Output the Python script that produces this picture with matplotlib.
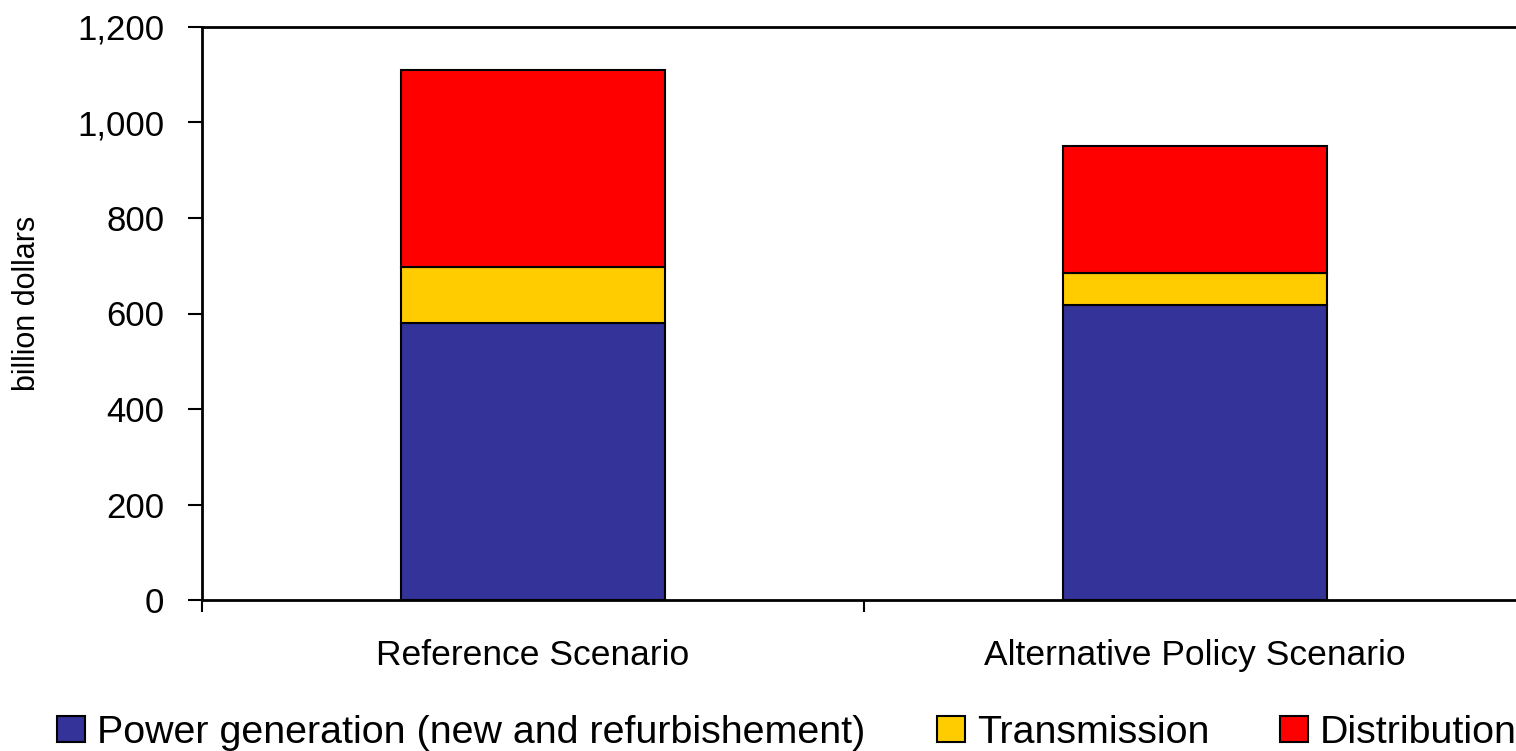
import matplotlib
matplotlib.use("Agg")
import matplotlib.pyplot as plt
from matplotlib.ticker import FuncFormatter, FixedLocator

categories = ["Reference Scenario", "Alternative Policy Scenario"]
series_names = ["Power generation (new and refurbishement)", "Transmission", "Distribution"]
power_generation = [580, 618]
transmission = [117, 67]
distribution = [413, 266]
colors = ["#333399", "#FFCC00", "#FF0000"]

plt.rcParams['font.family'] = ['Liberation Sans', 'DejaVu Sans']

W, H = 1516, 751
fig = plt.figure(figsize=(W/100, H/100), dpi=100)
ax = fig.add_axes([202/W, 1-600/H, 1324/W, 573/H])

x = list(range(len(categories)))
bottom = [0]*len(categories)
handles = []
for vals, name, c in zip([power_generation, transmission, distribution], series_names, colors):
    b = ax.bar(x, vals, width=0.4, bottom=bottom, color=c, edgecolor='black', linewidth=1.5, label=name)
    handles.append(b)
    bottom = [bb+v for bb, v in zip(bottom, vals)]

ax.set_xlim(-0.5, 1.5)
ax.set_ylim(0, 1200)
ax.set_yticks(range(0, 1201, 200))
ax.yaxis.set_major_formatter(FuncFormatter(lambda v, p: f"{int(v):,}"))
ax.xaxis.set_major_locator(FixedLocator([-0.5, 0.5, 1.5]))
ax.set_xticklabels([])
ax.xaxis.set_minor_locator(FixedLocator(x))
ax.set_xticklabels(categories, minor=True)
ax.tick_params(axis='x', which='minor', length=0, pad=28, labelsize=25.5)
ax.tick_params(axis='x', which='major', length=8.5, width=1.5, direction='out')
ax.tick_params(axis='y', length=10, width=1.5, direction='out', labelsize=25, pad=17)
for s in ['left', 'bottom', 'top']:
    ax.spines[s].set_linewidth(2)
ax.spines['right'].set_visible(False)
ax.set_ylabel("billion dollars", fontsize=22)
ax.yaxis.set_label_coords((42-202)/1324, (600-303)/573)

handle_x = [57, 937, 1280]
for h, name, hx in zip(handles, series_names, handle_x):
    fig.legend(handles=[h], labels=[name], loc='lower left',
               bbox_to_anchor=(hx/W, 0.0), frameon=False,
               fontsize=28.4, handlelength=0.71, handleheight=0.63,
               handletextpad=0.3, borderpad=0, borderaxespad=0)

fig.savefig("out.png", dpi=100)
